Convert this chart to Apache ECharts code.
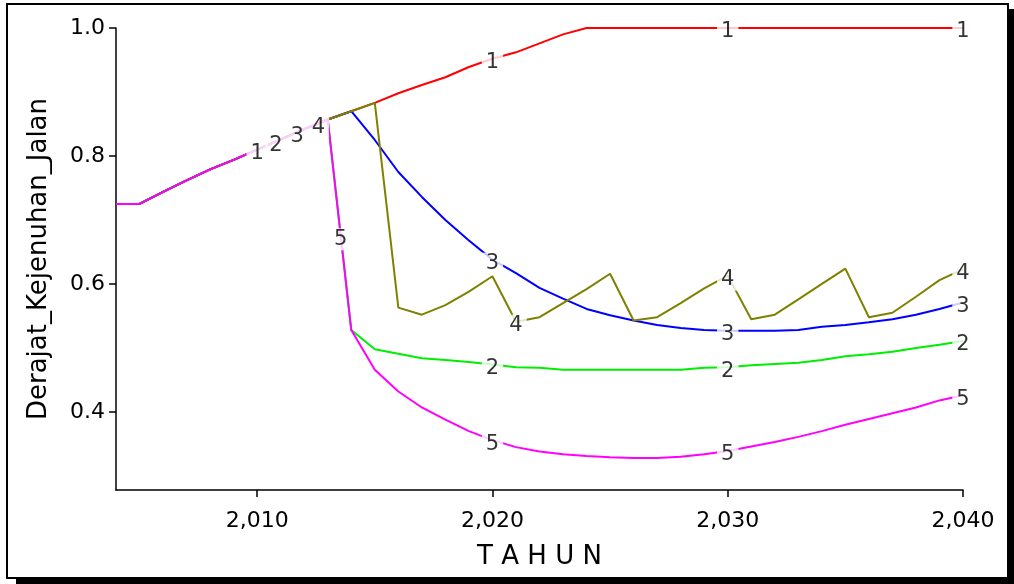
<!DOCTYPE html>
<html>
<head>
<meta charset="utf-8">
<script src="https://cdn.jsdelivr.net/npm/echarts@6/dist/echarts.min.js"></script>
<style>
html,body{margin:0;padding:0;background:#fff;}
#c{width:1014px;height:584px;}
</style>
</head>
<body>
<div id="c"></div>
<script>
const years = [];
for (let y = 2004; y <= 2040; y++) years.push(y);

const series1 = [0.725,0.725,0.744,0.762,0.779,0.794,0.810,0.826,0.842,0.857,
  0.870,0.883,0.898,0.911,0.923,0.939,0.952,0.962,0.976,0.990,
  1.000,1.000,1.000,1.000,1.000,1.000,1.000,1.000,1.000,1.000,
  1.000,1.000,1.000,1.000,1.000,1.000,1.000];
const series2 = [0.725,0.725,0.744,0.762,0.779,0.794,0.810,0.826,0.842,0.857,
  0.528,0.498,0.491,0.484,0.481,0.478,0.474,0.470,0.469,0.466,
  0.466,0.466,0.466,0.466,0.466,0.469,0.470,0.473,0.475,0.477,
  0.481,0.487,0.490,0.494,0.500,0.505,0.511];
const series3 = [0.725,0.725,0.744,0.762,0.779,0.794,0.810,0.826,0.842,0.857,
  0.870,0.825,0.775,0.736,0.700,0.668,0.638,0.617,0.594,0.577,
  0.561,0.551,0.543,0.536,0.531,0.528,0.527,0.527,0.527,0.528,
  0.533,0.536,0.540,0.545,0.552,0.561,0.571];
const series4 = [0.725,0.725,0.744,0.762,0.779,0.794,0.810,0.826,0.842,0.857,
  0.870,0.883,0.563,0.552,0.567,0.588,0.612,0.541,0.548,0.570,
  0.592,0.616,0.543,0.548,0.570,0.593,0.613,0.545,0.552,0.576,
  0.600,0.624,0.548,0.555,0.580,0.606,0.623];
const series5 = [0.725,0.725,0.744,0.762,0.779,0.794,0.810,0.826,0.842,0.857,
  0.528,0.466,0.432,0.407,0.388,0.370,0.356,0.345,0.338,0.334,
  0.331,0.329,0.328,0.328,0.330,0.334,0.339,0.346,0.353,0.361,
  0.370,0.380,0.389,0.398,0.407,0.418,0.426];

const seriesNames = ['1','2','3','4','5'];
const seriesColors = ['#ff0000','#00ee00','#0000ff','#808000','#ff00ff'];
const labelYears1 = [2010, 2020, 2030, 2040];
const labelYears2 = [2010.8, 2020, 2030, 2040];
const labelYears3 = [2011.7, 2020, 2030, 2040];
const labelYears4 = [2012.6, 2021, 2030, 2040];
const labelYears5 = [2013.55, 2020, 2030, 2040];

const xTicks = [2010, 2020, 2030, 2040];
const xTickLabels = ['2,010', '2,020', '2,030', '2,040'];
const yTicks = [0.4, 0.6, 0.8, 1.0];
const yTickLabels = ['0.4', '0.6', '0.8', '1.0'];

const allSeries = [series1, series2, series3, series4, series5];
const allLabelYears = [labelYears1, labelYears2, labelYears3, labelYears4, labelYears5];

function valueAt(vals, x) {
  for (let i = 0; i < years.length - 1; i++) {
    if (x >= years[i] && x <= years[i + 1]) {
      const t = (x - years[i]) / (years[i + 1] - years[i]);
      return vals[i] + t * (vals[i + 1] - vals[i]);
    }
  }
  return vals[vals.length - 1];
}

const FONT = 'DejaVu Sans';
const seriesList = [];
allSeries.forEach((vals, k) => {
  seriesList.push({
    type: 'line',
    name: seriesNames[k],
    data: years.map((y, i) => [y, vals[i]]),
    showSymbol: false,
    symbol: 'none',
    lineStyle: { color: seriesColors[k], width: 2 },
    itemStyle: { color: seriesColors[k] },
    z: 2 + k * 0.01,
    silent: true
  });
});
allSeries.forEach((vals, k) => {
  seriesList.push({
    type: 'scatter',
    data: allLabelYears[k].map(x => [x, valueAt(vals, x)]),
    symbol: 'circle',
    symbolSize: 0.1,
    itemStyle: { color: 'rgba(0,0,0,0)' },
    z: 10,
    silent: true,
    label: {
      show: true,
      position: 'inside',
      formatter: seriesNames[k],
      color: '#000',
      fontFamily: FONT,
      fontSize: 21,
      backgroundColor: '#fff',
      padding: [1, 4, 0, 4],
      offset: [0, 4]
    }
  });
});

const chart = echarts.init(document.getElementById('c'), null, { renderer: 'canvas' });
chart.setOption({
  animation: false,
  backgroundColor: '#fff',
  graphic: [
    { type: 'rect', z: -20, shape: { x: 16, y: 9, width: 998, height: 575 }, style: { fill: '#000' } },
    { type: 'rect', z: -10, shape: { x: 7, y: 4, width: 1001, height: 574 }, style: { fill: '#fff', stroke: '#000', lineWidth: 2 } }
  ],
  grid: { left: 116, top: 28, right: 51, bottom: 94, containLabel: false },
  xAxis: {
    type: 'value',
    min: 2004,
    max: 2040,
    name: 'T A H U N',
    nameLocation: 'middle',
    nameGap: 54,
    nameTextStyle: { fontFamily: FONT, fontSize: 26, color: '#000' },
    axisLine: { show: true, onZero: false, lineStyle: { color: '#000', width: 1.5 } },
    axisTick: { show: true, length: 7, customValues: xTicks, lineStyle: { color: '#000', width: 1.5 } },
    axisLabel: {
      customValues: xTicks,
      margin: 20,
      fontFamily: FONT,
      fontSize: 22,
      color: '#000',
      formatter: v => xTickLabels[xTicks.indexOf(v)]
    },
    splitLine: { show: false }
  },
  yAxis: {
    type: 'value',
    min: 0.278,
    max: 1.0,
    name: 'Derajat_Kejenuhan_Jalan',
    nameLocation: 'middle',
    nameGap: 64,
    nameTextStyle: { fontFamily: FONT, fontSize: 26, color: '#000' },
    axisLine: { show: true, lineStyle: { color: '#000', width: 1.5 } },
    axisTick: { show: true, length: 7, customValues: yTicks, lineStyle: { color: '#000', width: 1.5 } },
    axisLabel: {
      customValues: yTicks,
      margin: 11,
      fontFamily: FONT,
      fontSize: 22,
      color: '#000',
      formatter: v => { const i = yTicks.findIndex(t => Math.abs(t - v) < 1e-6); return i >= 0 ? yTickLabels[i] : ''; }
    },
    splitLine: { show: false }
  },
  series: seriesList
});
</script>
</body>
</html>
